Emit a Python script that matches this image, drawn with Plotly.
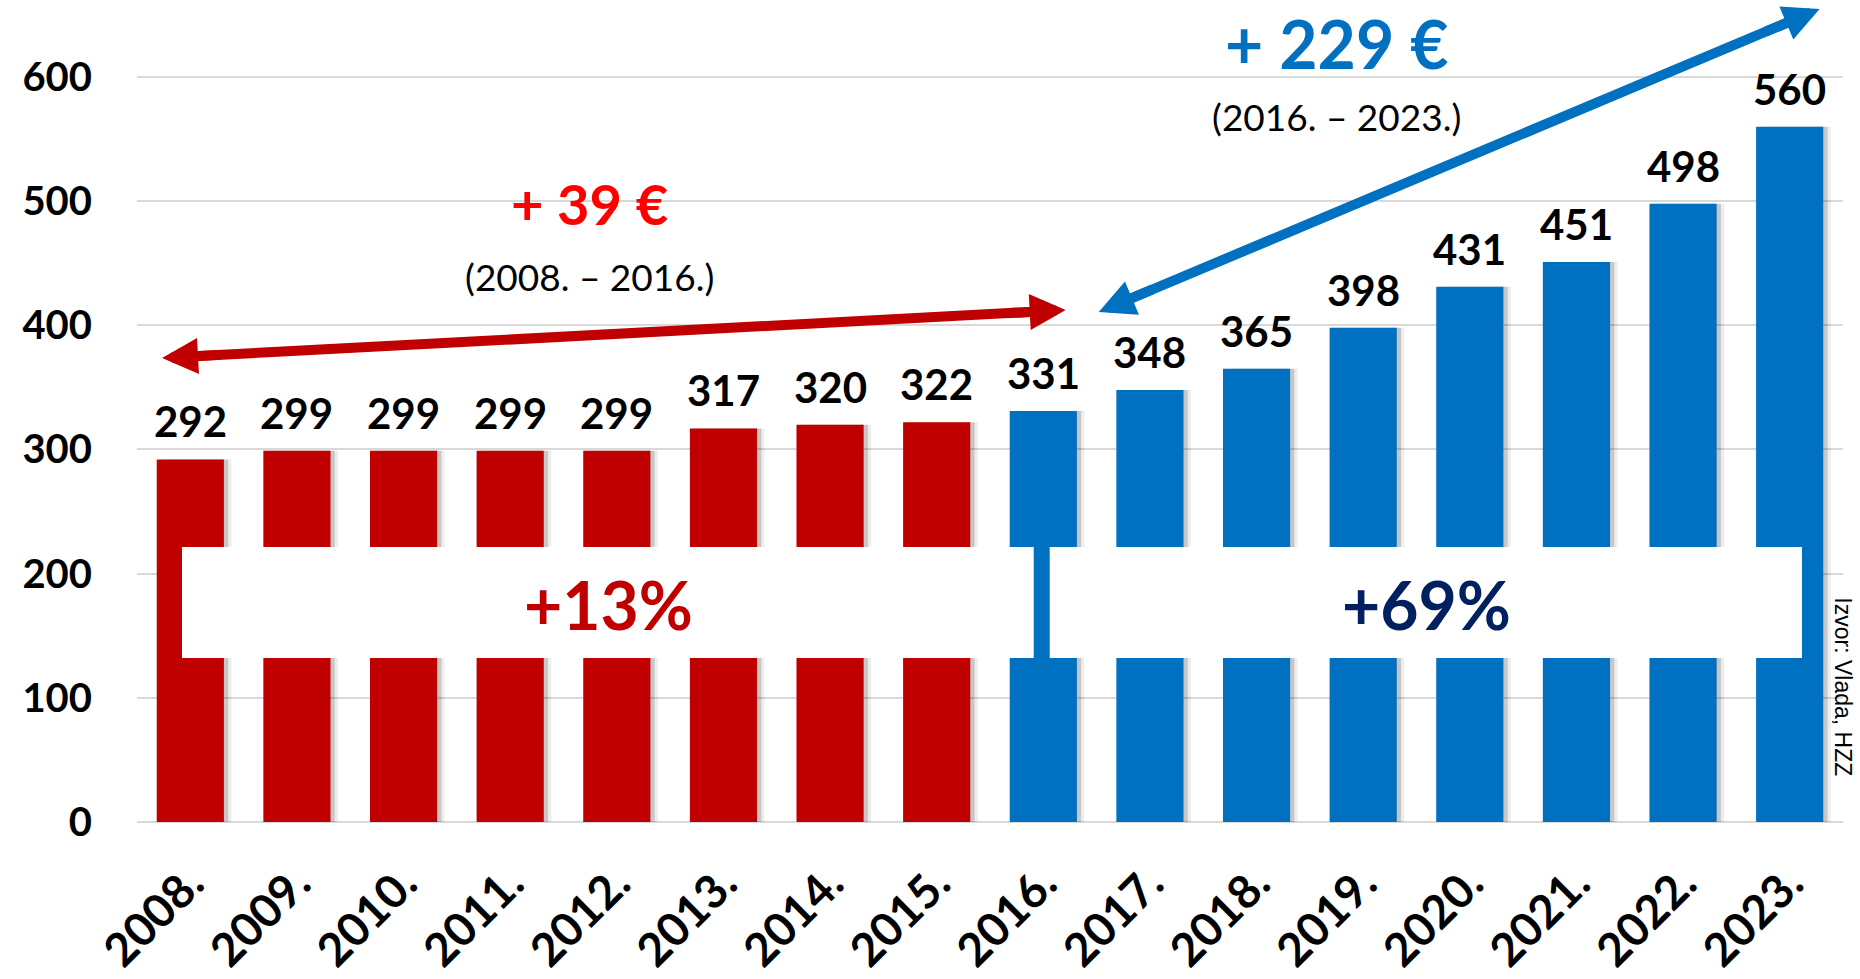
import math
import plotly.graph_objects as go

# ---- data ----
years = ["2008.", "2009.", "2010.", "2011.", "2012.", "2013.", "2014.", "2015.",
         "2016.", "2017.", "2018.", "2019.", "2020.", "2021.", "2022.", "2023."]
values = [292, 299, 299, 299, 299, 317, 320, 322,
          331, 348, 365, 398, 431, 451, 498, 560]
y_ticks = [0, 100, 200, 300, 400, 500, 600]
split_index = 8  # first year of the second period (2016.)

period1_change = "+ 39 €"
period1_range = "(2008. – 2016.)"
period1_pct = "+13%"
period2_change = "+ 229 €"
period2_range = "(2016. – 2023.)"
period2_pct = "+69%"
source_text = "Izvor: Vlada, HZZ"

# ---- styles / layout geometry ----
RED = "#C00000"
BLUE = "#0070C0"
FONT = "Lato"
bar_colors = [RED if i < split_index else BLUE for i in range(len(years))]
BAR_W = 0.63

W, H = 1860, 979
ML, MR, MT, MB = 137, 17, 0, 157
XR = [-0.5, 15.5]
YR = [0, 662]
PW, PH = W - ML - MR, H - MT - MB
KX = PW / (XR[1] - XR[0])
KY = PH / (YR[1] - YR[0])


def to_px(x, y):
    return ML + (x - XR[0]) * KX, MT + (YR[1] - y) * KY


def to_data(px, py):
    return (px - ML) / KX + XR[0], YR[1] - (py - MT) / KY


x_idx = list(range(len(years)))

fig = go.Figure()

# soft shadows
fig.add_trace(go.Bar(x=x_idx, y=values, width=BAR_W, offset=-BAR_W / 2 + 0.07,
                     marker=dict(color="rgba(0,0,0,0.07)", line=dict(width=0)),
                     hoverinfo="skip", showlegend=False))
fig.add_trace(go.Bar(x=x_idx, y=values, width=BAR_W, offset=-BAR_W / 2 + 0.04,
                     marker=dict(color="rgba(0,0,0,0.16)", line=dict(width=0)),
                     hoverinfo="skip", showlegend=False))
# main bars
fig.add_trace(go.Bar(x=x_idx, y=values, width=BAR_W,
                     marker=dict(color=bar_colors, line=dict(width=0)),
                     showlegend=False))

annotations = []
for i, v in zip(x_idx, values):
    annotations.append(dict(x=i, y=v, xref="x", yref="y", text=str(v), showarrow=False,
                            yanchor="bottom", yshift=11,
                            font=dict(family=FONT, size=42, color="black", weight="bold")))

# period texts
annotations += [
    dict(x=3.74, y=498, xref="x", yref="y", text=period1_change, showarrow=False,
         font=dict(family=FONT, size=56, color="#FF0000", weight="bold")),
    dict(x=3.74, y=439, xref="x", yref="y", text=period1_range, showarrow=False,
         font=dict(family=FONT, size=37, color="black")),
    dict(x=10.745, y=632, xref="x", yref="y", text=period2_change, showarrow=False,
         yshift=-6,
         font=dict(family=FONT, size=66, color=BLUE, weight="bold")),
    dict(x=10.745, y=568, xref="x", yref="y", text=period2_range, showarrow=False,
         font=dict(family=FONT, size=37, color="black")),
    dict(x=3.92, y=175, xref="x", yref="y", text=period1_pct, showarrow=False,
         font=dict(family=FONT, size=66, color=RED, weight="bold")),
    dict(x=11.59, y=175, xref="x", yref="y", text=period2_pct, showarrow=False,
         font=dict(family=FONT, size=66, color="#002060", weight="bold")),
    dict(x=1.0, xref="paper", y=98, yref="y", text=source_text, showarrow=False,
         textangle=90, xanchor="center", xshift=0, yshift=14,
         font=dict(family="Liberation Sans", size=23, color="black")),
]

shapes = [
    dict(type="rect", xref="x", yref="y", x0=-0.078, x1=7.91, y0=132, y1=221.5,
         fillcolor="white", line=dict(width=0), layer="above"),
    dict(type="rect", xref="x", yref="y", x0=8.06, x1=15.115, y0=132, y1=221.5,
         fillcolor="white", line=dict(width=0), layer="above"),
]

# double arrows: shaft as a line shape, heads as annotation arrows
ARROW_W = 10
HEAD_SCALE = 7.2  # px per arrowhead unit


def double_arrow(x0, y0, x1, y1, color):
    p0 = to_px(x0, y0)
    p1 = to_px(x1, y1)
    dx, dy = p1[0] - p0[0], p1[1] - p0[1]
    L = math.hypot(dx, dy)
    ux, uy = dx / L, dy / L
    cut = 22
    s0 = to_data(p0[0] + ux * cut, p0[1] + uy * cut)
    s1 = to_data(p1[0] - ux * cut, p1[1] - uy * cut)
    shapes.append(dict(type="line", xref="x", yref="y", x0=s0[0], y0=s0[1], x1=s1[0], y1=s1[1],
                       line=dict(color=color, width=ARROW_W), layer="above"))
    for (tx, ty), (vx, vy) in (((x1, y1), (ux, uy)), ((x0, y0), (-ux, -uy))):
        annotations.append(dict(x=tx, y=ty, xref="x", yref="y", text="", showarrow=True,
                                ax=-vx * 60, ay=-vy * 60, arrowhead=2,
                                arrowsize=HEAD_SCALE / ARROW_W, arrowwidth=ARROW_W,
                                arrowcolor=color, standoff=0))


double_arrow(-0.265, 373.7, 8.21, 412.3, RED)
double_arrow(8.52, 410.7, 15.28, 654.7, BLUE)

fig.update_layout(
    width=W, height=H,
    margin=dict(l=ML, r=MR, t=MT, b=MB, pad=0),
    paper_bgcolor="white", plot_bgcolor="white",
    barmode="overlay",
    showlegend=False,
    annotations=annotations,
    shapes=shapes,
    xaxis=dict(range=XR, tickvals=x_idx, ticktext=years, tickangle=-45,
               tickfont=dict(family=FONT, size=46, color="black", weight="bold"),
               showgrid=False, showline=False, zeroline=False, ticks="",
               ticklabelstandoff=24, automargin=False, fixedrange=True),
    yaxis=dict(range=YR, tickvals=y_ticks, showgrid=True, gridcolor="#D9D9D9",
               gridwidth=2, zeroline=True, zerolinecolor="#D9D9D9", zerolinewidth=2,
               showline=False, ticks="", ticklabelstandoff=44, automargin=False,
               tickfont=dict(family=FONT, size=40, color="black", weight="bold"),
               fixedrange=True),
)

fig.write_html("out.html", config={"displayModeBar": False},
               post_script="document.body.style.margin='0px';")
